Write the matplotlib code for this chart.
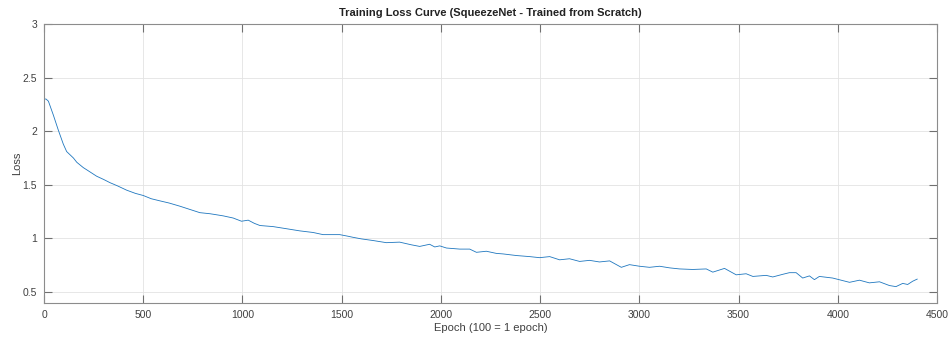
import matplotlib
matplotlib.use('Agg')
import matplotlib.pyplot as plt

# Loss values (iteration, loss)
iterations = [0, 10, 22, 47, 72, 97, 114, 131, 148, 165, 198, 215, 265, 300, 332,
              370, 416, 460, 500, 540, 584, 630, 685, 735, 785, 836, 870, 903, 953,
              995, 1029, 1060, 1088, 1154, 1222, 1289, 1356, 1406, 1450, 1490, 1532,
              1557, 1600, 1658, 1725, 1792, 1851, 1893, 1943, 1969, 1994, 2028, 2095,
              2145, 2179, 2229, 2279, 2313, 2380, 2447, 2497, 2548, 2598, 2648, 2699,
              2749, 2799, 2850, 2909, 2950, 3001, 3051, 3102, 3152, 3202, 3269, 3337,
              3370, 3429, 3488, 3538, 3572, 3639, 3672, 3723, 3756, 3790, 3823, 3857,
              3882, 3907, 3974, 4059, 4109, 4159, 4210, 4260, 4293, 4327, 4352, 4377,
              4394, 4400]
loss = [2.30, 2.30, 2.28, 2.15, 2.01, 1.88, 1.81, 1.78, 1.75, 1.71, 1.66, 1.64, 1.58,
        1.55, 1.52, 1.49, 1.45, 1.42, 1.40, 1.37, 1.35, 1.33, 1.30, 1.27, 1.24, 1.23,
        1.22, 1.21, 1.19, 1.16, 1.17, 1.14, 1.12, 1.11, 1.09, 1.07, 1.055, 1.035,
        1.035, 1.035, 1.02, 1.01, 0.995, 0.98, 0.96, 0.965, 0.94, 0.925, 0.945, 0.92,
        0.93, 0.91, 0.90, 0.90, 0.87, 0.88, 0.86, 0.855, 0.84, 0.83, 0.82, 0.83, 0.80,
        0.81, 0.785, 0.795, 0.78, 0.79, 0.73, 0.755, 0.74, 0.73, 0.74, 0.725, 0.715,
        0.71, 0.715, 0.685, 0.72, 0.66, 0.67, 0.645, 0.655, 0.64, 0.665, 0.68, 0.68,
        0.63, 0.65, 0.615, 0.645, 0.63, 0.59, 0.61, 0.585, 0.595, 0.56, 0.55, 0.58,
        0.57, 0.60, 0.615, 0.62]

xticks = [0, 500, 1000, 1500, 2000, 2500, 3000, 3500, 4000, 4500]
yticks = [0.5, 1, 1.5, 2, 2.5, 3]
ytick_labels = ['0.5', '1', '1.5', '2', '2.5', '3']

plt.rcParams['font.family'] = ['Liberation Sans', 'DejaVu Sans']

fig = plt.figure(figsize=(9.49, 3.39), dpi=100)
ax = fig.add_axes([0.0464, 0.1071, 0.941, 0.8221])

ax.plot(iterations, loss, color='#1f77bf', linewidth=0.6)

ax.set_xlim(0, 4500)
ax.set_ylim(0.4, 3)
ax.set_xticks(xticks)
ax.set_yticks(yticks)
ax.set_yticklabels(ytick_labels)

# MATLAB-like box with inward ticks on all sides
text_color = '#404040'
for spine in ax.spines.values():
    spine.set_color('#8c8c8c')
    spine.set_linewidth(0.8)
ax.tick_params(direction='in', top=True, right=True, length=6, width=0.8,
               color='#707070', labelsize=7.5, labelcolor=text_color, pad=5)
ax.grid(True, color='#e3e3e3', linewidth=0.6)
ax.set_axisbelow(True)

ax.set_title('Training Loss Curve (SqueezeNet - Trained from Scratch)',
             fontsize=8, fontweight='bold', color='#222222', pad=5.5)
ax.set_xlabel('Epoch (100 = 1 epoch)', fontsize=8, color=text_color, labelpad=2.5)
ax.set_ylabel('Loss', fontsize=8, color=text_color, labelpad=0.5)

fig.savefig('out.png', dpi=100)
